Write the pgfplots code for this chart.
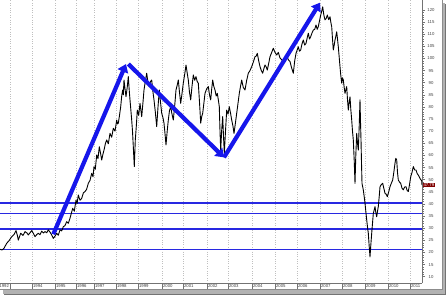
\documentclass[border=0pt]{standalone}
\usepackage{fontspec}
\setmainfont{Liberation Sans}
\usepackage{pgfplots}
\pgfplotsset{compat=1.18}
\usetikzlibrary{arrows.meta}
\definecolor{arrowblue}{RGB}{22,22,235}
\definecolor{lineblue}{RGB}{40,40,225}
\definecolor{tagred}{RGB}{128,0,0}

\pgfplotstableread{
x y
0 21.3
2 21.0
4 21.7
6.7 23.8
9 24.8
11.7 26.5
14 27.4
16 29.0
17.2 27.3
18.3 25.1
20.7 27.9
23 27.0
25 28.6
27 28.0
28.3 27.2
30 28.1
31.7 29.0
33.5 27.8
35 26.5
36.8 27.4
38.3 27.9
40 27.3
41.7 28.8
43.5 28.0
45 28.6
46.7 28.1
48.3 29.3
50 28.4
51.7 27.2
53.3 25.8
55 26.7
56.7 27.9
58.3 27.1
60 29.3
61.7 28.9
63.3 30.6
65 31.1
66.7 32.7
68.3 32.0
70 34.1
71.4 36.2
72.7 38.2
74.3 37.0
76 41.6
77.1 40.2
78.3 43.7
80 41.5
81.7 42.3
83.4 44.6
85 45.1
86.6 46.0
88.3 48.5
90 49.7
91.7 52.6
93 51.2
94 55.4
95.3 54.3
96.7 60.2
98 58.7
99.3 63.6
100.5 61.0
101.7 58.1
103 60.6
104 62.2
105.4 64.9
106.7 66.4
108.3 64.8
110 69.1
111.7 67.5
113.3 71.2
115 70.0
116.7 74.6
117.5 73.0
118.3 73.3
119.5 76.5
120.7 80.1
121.7 84.5
122.7 87.0
123.3 85.0
124 91.1
125 87.5
126 84.2
127.2 88.0
128.3 92.5
129.2 87.0
130 82.9
131 78.0
131.7 74.6
132.5 70.0
133.3 63.6
134.3 55.4
135.3 66.4
136.3 72.0
137.3 78.7
138.7 76.5
140 81.5
141.7 76.0
143 82.0
144 87.0
145.3 90.5
146.7 93.9
148 90.0
149.3 88.4
150.5 90.5
151.7 91.1
153 86.0
154 82.9
155.3 78.0
156.7 71.9
158 80.0
159.3 87.0
160.5 82.0
161.7 77.4
163 75.5
164 73.3
165 69.0
166 64.3
167.2 70.0
168.3 74.6
169.5 78.5
170.7 80.1
172 77.0
173.3 74.6
174.7 80.5
176 87.0
177.2 89.0
178.3 91.1
179.5 86.0
180.7 81.5
182 85.5
183.3 89.8
184.7 93.5
186 97.3
187.2 94.0
188.3 91.1
189.5 86.0
190.7 82.9
192 88.5
193.3 93.2
194.7 91.0
196 92.5
197.2 90.5
198.3 89.8
199.5 82.0
200.7 73.3
201.7 76.0
202.7 77.4
204 82.0
205 85.6
206.7 87.5
208.3 88.4
209.5 85.0
210.7 82.9
211.7 87.5
212.7 91.1
213.8 88.5
215 87.0
216.2 84.5
217.3 85.6
218.3 83.0
219.3 80.1
220 70.0
220.7 62.2
221.7 70.5
222.7 76.0
223.5 68.0
224.3 60.9
225.5 70.0
226.7 78.7
228 77.0
229.3 80.1
230.5 77.5
231.7 74.6
233 72.0
234 69.1
235.3 73.0
236.7 77.4
238 81.5
239.3 85.6
240.5 88.5
241.7 91.1
243.3 88.0
245 87.0
246.7 91.0
248.3 93.9
250 95.0
251.7 96.6
253.3 98.5
255 100.7
256.2 101.0
257.3 102.1
258.7 99.0
260 96.6
261.3 95.0
262.7 93.9
264 96.0
265 97.3
266.2 96.5
267.3 95.2
268.7 98.0
270 100.7
271.7 102.5
273.3 104.2
275 102.5
276.7 101.4
278.3 102.5
280 100.2
281.7 99.5
283.3 98.5
285 100.5
286.7 101.0
288.3 99.5
290 98.7
291.7 96.0
293.3 93.9
294.7 99.0
296 102.1
297.2 103.5
298.3 104.8
299.5 103.0
300.7 103.5
302 106.0
303.3 107.6
304.7 105.5
306 106.2
307.2 108.5
308.3 110.4
309.5 108.0
310.7 109.0
312 110.5
313.3 111.7
314.7 112.0
316 113.8
317.2 112.0
318.3 113.1
319.5 115.5
320.7 117.9
321.7 119.5
322.7 121.3
323.8 118.0
325 115.9
326.2 116.5
327.3 117.9
328.7 116.0
330 117.2
331 114.5
331.7 113.1
332.5 108.0
333.3 103.5
334.2 105.5
335 107.6
336 109.5
336.7 111.0
337.5 108.0
338.3 104.8
339.2 100.5
340 96.6
340.8 93.0
341.7 89.8
342.5 92.0
343.3 91.1
344.2 88.0
345 85.6
345.8 87.0
346.7 88.4
347.5 83.0
348.3 78.7
349.2 82.0
350 84.2
350.8 79.0
351.7 74.6
352.5 70.0
353.3 66.4
354.2 58.0
355 48.5
355.8 60.0
356.7 69.1
357.5 65.0
358.3 62.2
359.2 72.0
360 82.9
360.5 74.0
361 66.4
361.5 57.0
362 48.5
363.3 45.8
364.2 43.0
365 40.3
365.8 37.0
366.7 33.4
367.5 30.5
368.3 27.9
369.2 22.5
370 18.2
370.8 23.0
371.7 27.9
372.5 32.0
373.3 36.1
374.2 37.5
375 38.9
375.8 36.5
376.7 34.7
377.5 37.0
378.3 38.9
379.2 43.0
380 47.1
381.3 48.0
382.7 48.5
383.8 46.5
385 44.4
386.2 44.0
387.3 43.0
388.7 45.0
390 47.1
391.3 48.5
392.7 49.9
393.8 53.0
395 56.8
395.8 58.8
396.7 58.1
397.5 53.0
398.3 49.9
399.5 49.0
400.7 48.5
402 46.5
403.3 45.8
404.7 47.0
406 47.1
407.2 45.5
408.3 45.1
409.5 48.0
410.7 51.2
412 53.0
413.3 55.4
414.7 54.0
416 54.0
417.2 52.5
418.3 51.9
420 50.5
421.7 49.5
422 47.79
}\price

\begin{document}
\begin{tikzpicture}
\fill[black!55] (4bp,0bp) rectangle (446bp,291bp);
\fill[black!30] (3bp,1bp) rectangle (445bp,292bp);
\fill[white] (0bp,5bp) rectangle (442.5bp,295bp);
\draw[black!45, line width=0.5bp] (0bp,6bp) -- (442.5bp,6bp) -- (442.5bp,295bp);
\begin{axis}[
  at={(0bp,12bp)}, anchor=south west,
  width=422bp, height=283bp, scale only axis,
  xmin=0, xmax=422, ymin=7.4, ymax=124.1,
  axis x line*=bottom, axis y line*=right,
  axis line style={black!55, line width=0.5bp},
  clip mode=individual,
  xtick={10,32,55,76,94,116,138,162,183,207,228,252,275,297,320,342,365,388,410},
  xticklabels={,1994,1995,1996,1997,1998,1999,2000,2001,2002,2003,2004,2005,2006,2007,2008,2009,2010,2011},
  xmajorgrids,
  major x grid style={black!25, dotted, line width=0.5bp},
  x tick style={black!55, line width=0.5bp},
  ytick={10,15,...,120},
  minor y tick num=4,
  tick align=outside,
  major tick length=3bp, minor tick length=1.6bp,
  y tick style={black!55, line width=0.4bp},
  xticklabel style={anchor=north west, inner sep=0pt, xshift=0.8bp, yshift=1.5bp, font=\fontsize{4.3}{4.5}\selectfont, text=black!75},
  yticklabel style={anchor=center, inner sep=0pt, xshift=6bp, font=\fontsize{4.3}{4.5}\selectfont, text=black!75},
  /pgf/number format/assume math mode=true,
]
\addplot[color=lineblue, line width=1.5bp] coordinates {(0,40.4) (422,40.4)};
\addplot[color=lineblue, line width=1.5bp] coordinates {(0,36.0) (422,36.0)};
\addplot[color=lineblue, line width=1.5bp] coordinates {(0,29.7) (422,29.7)};
\addplot[color=lineblue, line width=1.5bp] coordinates {(0,21.2) (422,21.2)};
\addplot[black, line width=0.9bp, line join=round] table[x=x,y=y] {\price};
\addplot[arrowblue, line width=4.2bp, -{Triangle[length=8bp,width=11bp]}] coordinates {(53.3,27.5) (126,97.7)};
\addplot[arrowblue, line width=4.2bp, -{Triangle[length=8bp,width=11bp]}] coordinates {(128.3,97.7) (224,59.2)};
\addplot[arrowblue, line width=4.2bp, -{Triangle[length=8bp,width=11bp]}] coordinates {(224,59.2) (320,123.0)};
\node[overlay, anchor=north east, inner sep=0pt, xshift=-0.8bp, yshift=-1.5bp, font=\fontsize{4.3}{4.5}\selectfont, text=black!75] at (axis cs:10,7.4) {1992};
\node[anchor=west, fill=tagred, text=white, inner xsep=0.8bp, inner ysep=0.6bp, font=\fontsize{4.3}{4.5}\selectfont] at (axis cs:422.5,47.79) {47.79};
\end{axis}
\draw[black!55, line width=0.5bp] \foreach \p in {10,32,55,76,94,116,138,162,183,207,228,252,275,297,320,342,365,388,410} {(\p bp,12bp) -- (\p bp,6bp)};
\pgfresetboundingbox
\useasboundingbox (0bp,0bp) rectangle (446bp,295bp);
\end{tikzpicture}
\end{document}
